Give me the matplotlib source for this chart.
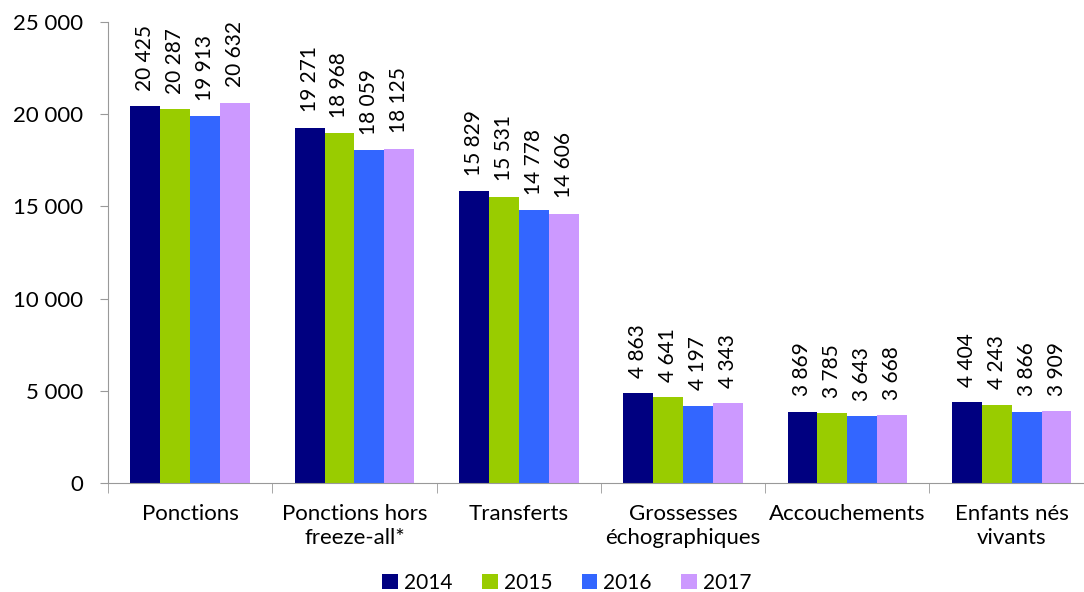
import numpy as np
import matplotlib.pyplot as plt

plt.rcParams['font.family'] = ['Lato', 'DejaVu Sans']

categories = ["Ponctions", "Ponctions hors\nfreeze-all*", "Transferts",
              "Grossesses\néchographiques", "Accouchements", "Enfants nés\nvivants"]
years = ["2014", "2015", "2016", "2017"]
v2014 = [20425, 19271, 15829, 4863, 3869, 4404]
v2015 = [20287, 18968, 15531, 4641, 3785, 4243]
v2016 = [19913, 18059, 14778, 4197, 3643, 3866]
v2017 = [20632, 18125, 14606, 4343, 3668, 3909]
colors = ["#000080", "#99CC00", "#3366FF", "#CC99FF"]


def fmt(v):
    return "{:,}".format(v).replace(",", " ")


fig = plt.figure(figsize=(10.84, 5.92), dpi=100)
# the category axis runs a little past the right edge of the image, as in the source
ax = fig.add_axes([108 / 1084, 1 - 483 / 592, 6 * 164.3 / 1084, (483 - 22) / 592])

ind = np.arange(len(categories))
width = 0.182
series = [v2014, v2015, v2016, v2017]
handles = []
for i, vals in enumerate(series):
    pos = ind + (i - 1.5) * width
    b = ax.bar(pos, vals, width, color=colors[i], label=years[i])
    handles.append(b)
    for x, v in zip(pos, vals):
        ax.annotate(fmt(v), (x, v), xytext=(0, 11), textcoords="offset points",
                    rotation=90, ha="center", va="bottom", fontsize=15)

ax.set_xlim(-0.5, len(categories) - 0.5)
ax.set_ylim(0, 25000)
ax.set_yticks(np.arange(0, 25001, 5000))
ax.set_yticklabels([fmt(t) for t in range(0, 25001, 5000)], fontsize=16)

ax.set_xticks(ind)
ax.set_xticklabels(categories, fontsize=16, linespacing=1.25)
ax.set_xticks(np.arange(-0.5, len(categories), 1), minor=True)
ax.tick_params(axis="x", which="major", length=0, pad=15)
ax.tick_params(axis="x", which="minor", length=7, color="#999999")
ax.tick_params(axis="y", length=6, color="#999999", pad=12)

for s in ["top", "right"]:
    ax.spines[s].set_visible(False)
for s in ["left", "bottom"]:
    ax.spines[s].set_color("#999999")

fig.legend(handles, years, loc="lower center", bbox_to_anchor=(0.523, -0.033),
           ncol=4, frameon=False, fontsize=15, handlelength=0.75,
           handleheight=0.75, handletextpad=0.3, columnspacing=1.4)

plt.savefig("out.png", dpi=100)
